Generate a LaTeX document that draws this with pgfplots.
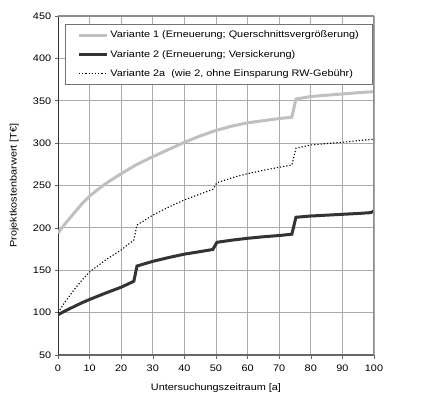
\documentclass[border=0pt]{standalone}
\usepackage{fontspec}
\setmainfont[FakeStretch=1.15]{Liberation Sans}
\usepackage{pgfplots}
\pgfplotsset{compat=1.18}
\definecolor{vone}{HTML}{C0C0C0}
\definecolor{vtwo}{HTML}{333333}
\definecolor{gridc}{HTML}{ABABAB}
\begin{document}
\fontsize{9.5}{11}\selectfont
\begin{tikzpicture}
\path[use as bounding box] (0,0) rectangle (436bp,397bp);
\begin{axis}[
  at={(58bp,42bp)}, anchor=south west,
  scale only axis, width=316bp, height=339bp,
  xmin=0, xmax=100, ymin=50, ymax=450,
  xtick={0,10,...,100}, ytick={50,100,...,450},
  axis x line*=bottom, axis y line*=left,
  x axis line style={color=black!60, line width=1.4bp, -},
  y axis line style={color=black!80, line width=1bp, -},
  tick align=outside, major tick length=3.5bp,
  every tick/.style={color=black!60, line width=0.6bp},
  grid=major,
  grid style={draw=gridc, line width=1bp},
  /pgf/number format/assume math mode=true,
  ticklabel style={font=\fontsize{9.5}{11}\selectfont},
  xticklabel style={yshift=-3bp},
  xlabel={Untersuchungszeitraum [a]},
  ylabel={Projektkostenbarwert [T€]},
  xlabel style={yshift=-6bp},
  ylabel style={yshift=8bp},
  label style={font=\fontsize{9.5}{11}\selectfont},
  legend cell align=left,
  legend style={at={(rel axis cs:0.0222,0.9764)}, anchor=north west,
    draw=black!55, line width=0.8bp, inner xsep=12bp, inner ysep=4.5bp,
    row sep=7bp, font=\fontsize{9.5}{11}\selectfont},
  legend image code/.code={\draw[#1] (0bp,0bp) -- (28bp,0bp);},
]
\addplot[vone, line width=3bp] coordinates {
(0,194) (2.5,206) (5,217) (7.5,228) (10,237.5) (12.5,245) (15,252) (17.5,258) (20,264)
(25,275) (30,284) (35,292.5) (40,301) (45,308.5) (50,315) (55,320) (60,324)
(65,326.5) (70,329) (74,330.5) (75.3,352) (80,355) (85,356.5) (90,358) (95,359.5) (100,360.7)
};
\addlegendentry{Variante 1 (Erneuerung; Querschnittsvergrößerung)}
\addplot[vtwo, line width=3bp] coordinates {
(0,97.5) (2.5,102.5) (5,107) (7.5,111.5) (10,115.5) (15,123) (20,130) (24,137)
(25,155) (30,160.5) (35,165) (40,169) (45,172) (49,174.5) (50.3,183)
(55,185.5) (60,187.7) (65,189.5) (70,191) (74,192.5) (75.3,212.5)
(80,214) (85,215) (90,216) (95,217) (99,218) (100,220)
};
\addlegendentry{Variante 2 (Erneuerung; Versickerung)}
\addplot[black, line width=1.1bp, dash pattern=on 1.2bp off 2bp] coordinates {
(0,100) (2.5,114) (5,126.5) (7.5,138) (10,148) (15,162) (20,174) (24,185.7)
(25,203.4) (30,215) (35,224.5) (40,233) (45,240) (49,245.5) (50.3,253.3)
(55,259) (60,264) (65,268) (70,271.5) (74,274) (75.3,294)
(80,297.8) (85,299.5) (90,301) (95,303) (100,304.5)
};
\addlegendentry{Variante 2a\ \ (wie 2, ohne Einsparung RW-Gebühr)}
\draw[color=black!45, line width=1.2bp] (rel axis cs:0,1) -- (rel axis cs:1,1) -- (rel axis cs:1,0);
\end{axis}
\end{tikzpicture}
\end{document}
